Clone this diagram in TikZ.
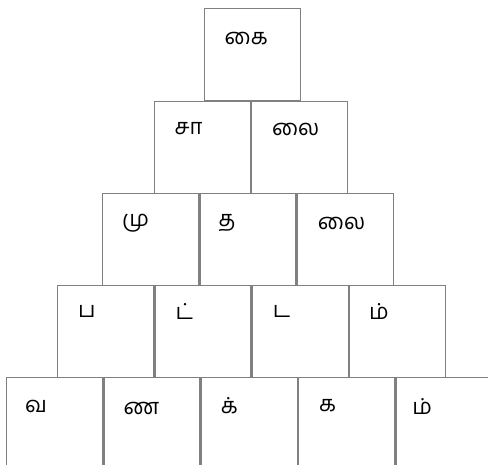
\documentclass[tikz,border=0pt]{standalone}
\usepackage{fontspec}
\newfontfamily\tamilfont[Script=Tamil]{Hind Madurai}
\begin{document}
\begin{tikzpicture}[x=1pt,y=-1pt,
  cell/.style={draw=black!50,line width=1.3pt,rectangle,minimum width=96pt,minimum height=92pt,anchor=north west,inner sep=0pt},
  letter/.style={anchor=west,inner sep=0pt,font=\tamilfont\fontsize{22}{26}\selectfont}]
\useasboundingbox (0,0) rectangle (488,465);
\begin{scope}
\clip (0,0) rectangle (488,465);
% row 1
\node[cell] (b11) at (203.5,8) {};
% row 2
\node[cell] (b21) at (153.5,101) {};
\node[cell] (b22) at (250.8,101) {};
% row 3
\node[cell] (b31) at (102,193) {};
\node[cell] (b32) at (199.3,193) {};
\node[cell] (b33) at (296.6,193) {};
% row 4
\node[cell] (b41) at (57,285) {};
\node[cell] (b42) at (154.3,285) {};
\node[cell] (b43) at (251.6,285) {};
\node[cell] (b44) at (348.9,285) {};
% row 5
\node[cell,minimum height=100pt] (b51) at (6,377) {};
\node[cell,minimum height=100pt] (b52) at (103.3,377) {};
\node[cell,minimum height=100pt] (b53) at (200.6,377) {};
\node[cell,minimum height=100pt] (b54) at (297.9,377) {};
\node[cell,minimum height=100pt] (b55) at (395.2,377) {};
\end{scope}
\node[letter] (t11) at ([xshift=21pt,yshift=-31pt]b11.north west) {கை};
\node[letter] (t21) at ([xshift=21pt,yshift=-28pt]b21.north west) {சா};
\node[letter] (t22) at ([xshift=21pt,yshift=-28pt]b22.north west) {லை};
\node[letter] (t31) at ([xshift=20pt,yshift=-30pt]b31.north west) {மு};
\node[letter] (t32) at ([xshift=19pt,yshift=-30pt]b32.north west) {த};
\node[letter] (t33) at ([xshift=21pt,yshift=-30pt]b33.north west) {லை};
\node[letter] (t41) at ([xshift=21pt,yshift=-26pt]b41.north west) {ப};
\node[letter] (t42) at ([xshift=21pt,yshift=-26pt]b42.north west) {ட்};
\node[letter] (t43) at ([xshift=21pt,yshift=-26pt]b43.north west) {ட};
\node[letter] (t44) at ([xshift=20pt,yshift=-26pt]b44.north west) {ம்};
\node[letter] (t51) at ([xshift=19pt,yshift=-29pt]b51.north west) {வ};
\node[letter] (t52) at ([xshift=20pt,yshift=-31pt]b52.north west) {ண};
\node[letter] (t53) at ([xshift=20pt,yshift=-29pt]b53.north west) {க்};
\node[letter] (t54) at ([xshift=21pt,yshift=-29pt]b54.north west) {க};
\node[letter] (t55) at ([xshift=17pt,yshift=-29pt]b55.north west) {ம்};
\end{tikzpicture}
\end{document}
